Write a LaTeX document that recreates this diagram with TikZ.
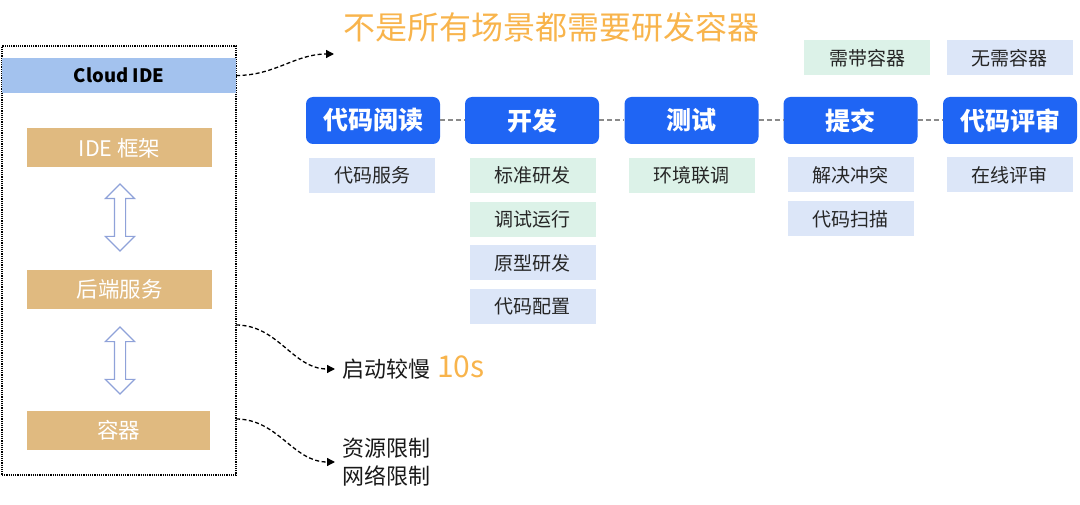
\documentclass[tikz,border=0pt]{standalone}
\usepackage{fontspec}
\setmainfont{Noto Sans CJK SC}
\usetikzlibrary{shapes.arrows,arrows.meta}
\definecolor{mazul}{HTML}{1F65F4}
\definecolor{mcielo}{HTML}{DCE6F8}
\definecolor{mmenta}{HTML}{DCF2E8}
\definecolor{mcafe}{HTML}{E0BA80}
\definecolor{mbarra}{HTML}{A3C2EE}
\definecolor{mnaranja}{HTML}{F8B44C}
\definecolor{mflecha}{HTML}{8FA2D9}
\definecolor{mgris}{HTML}{8A8A8A}

\begin{document}
\begin{tikzpicture}[x=1pt,y=-1pt,
fs/.style={font=\fontsize{#1}{#1}\selectfont},
marco/.style={draw=black,densely dotted,line width=1.2pt,minimum width=234pt,minimum height=429pt,inner sep=0pt},
barra/.style={fill=mbarra,minimum width=234pt,minimum height=35pt,inner sep=0pt,font=\fontsize{18.5}{18.5}\selectfont\bfseries},
capa/.style={fill=mcafe,text=white,minimum width=185pt,minimum height=39pt,inner sep=0pt,fs=21.5},
flechad/.style={double arrow,draw=mflecha,fill=white,line width=1.2pt,rotate=90,minimum height=67pt,minimum width=28pt,inner xsep=0pt,inner ysep=5pt,double arrow head extend=9pt,double arrow head indent=0pt},
etapa/.style={rounded corners=7pt,fill=mazul,text=white,minimum width=134pt,minimum height=47pt,inner sep=0pt,font=\fontsize{25}{25}\selectfont\bfseries},
sub/.style={fill=mcielo,text=black!85,minimum width=126pt,minimum height=35pt,inner sep=0pt,fs=19},
subv/.style={sub,fill=mmenta},
nota/.style={text=black!90,inner sep=0pt,anchor=west,fs=22,align=left},
flow/.style={-{Triangle[length=8pt,width=8pt]},dashed,dash pattern=on 4pt off 2.5pt,line width=1.3pt,black},
link/.style={dashed,dash pattern=on 5pt off 3pt,draw=mgris,line width=2pt}]
\useasboundingbox (0,0) rectangle (1080,505);

% pila del IDE
\node[marco] (frame) at (119,260.5) {};
\node[barra] (cloud) at (119,75.5) {Cloud IDE};
\node[capa] (ide) at (119.5,148) {IDE 框架};
\node[capa] (back) at (119.5,289.5) {后端服务};
\node[capa,minimum width=183pt] (ctr) at (118.5,430.5) {容器};
\node[flechad] (a1) at (120,217.5) {};
\node[flechad] (a2) at (120,360.5) {};

% titulo y notas
\node[text=mnaranja,inner sep=0pt,fs=32] (titulo) at (551,27) {不是所有场景都需要研发容器};
\coordinate (t1) at (334,54);
\node[nota] (lento) at (342,369) {启动较慢};
\node[text=mnaranja,inner sep=0pt,anchor=west,fs=30] (seg) at (437,367) {10s};
\node[nota,font=\fontsize{22}{28}\selectfont] (limite) at (342,462) {资源限制\\网络限制};
\coordinate (o2) at (236,325);
\coordinate (o3) at (236,419);

\draw[flow] (cloud.east) to[out=0,in=180] (t1);
\draw[flow] (o2) to[out=0,in=180] ([xshift=-7pt]lento.west);
\draw[flow] (o3) to[out=0,in=180] ([xshift=-7pt]limite.west);

% etapas
\node[etapa] (h1) at (373,120.5) {代码阅读};
\node[etapa] (h2) at (532,120.5) {开发};
\node[etapa] (h3) at (691.5,120.5) {测试};
\node[etapa] (h4) at (850.5,120.5) {提交};
\node[etapa] (h5) at (1010,120.5) {代码评审};

\draw[link] (h1.east)--(h2.west);
\draw[link] (h2.east)--(h3.west);
\draw[link] (h3.east)--(h4.west);
\draw[link] (h4.east)--(h5.west);

\node[sub] (s1) at (372,175.5) {代码服务};
\node[subv] (s2) at (532.5,175.5) {标准研发};
\node[subv] (s3) at (532.5,219.5) {调试运行};
\node[sub] (s4) at (532.5,263) {原型研发};
\node[sub] (s5) at (532.5,306.5) {代码配置};
\node[subv] (s6) at (691.5,175.5) {环境联调};
\node[sub] (s7) at (850.5,175) {解决冲突};
\node[sub] (s8) at (850.5,219) {代码扫描};
\node[sub] (s9) at (1009.5,175) {在线评审};

% leyenda
\node[subv] (lv) at (867,58) {需带容器};
\node[sub] (la) at (1009.5,58) {无需容器};
\end{tikzpicture}
\end{document}
